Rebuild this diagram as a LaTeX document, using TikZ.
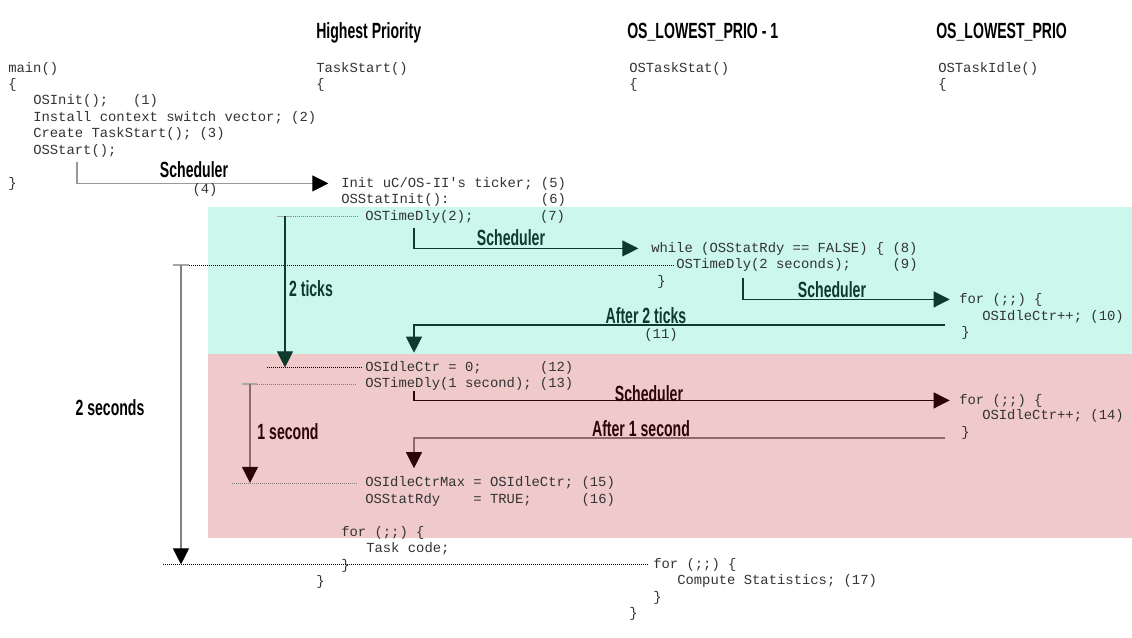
\documentclass[tikz,border=0pt]{standalone}
\usepackage{fontspec}
\setmonofont{Liberation Mono}
\newfontfamily\headfont{Liberation Sans}[FakeStretch=0.64]
\usepackage{tikz}
\usetikzlibrary{arrows.meta,positioning}

\definecolor{mint}{HTML}{CBF7EC}
\definecolor{rose}{HTML}{F0CACA}
\definecolor{tealdark}{HTML}{0E3A2E}
\definecolor{maroondark}{HTML}{2B0606}
\definecolor{rosegray}{HTML}{8E6A6A}
\newcommand\codefont{\fontsize{10.4}{12}\selectfont\ttfamily}
\newcommand\lblfont{\fontsize{16.5}{19}\selectfont\headfont\bfseries}

\begin{document}\frenchspacing
\begin{tikzpicture}[x=0.75pt, y=-0.75pt,
	code/.style={anchor=base west, inner sep=0pt, font=\codefont, text=black!80},
	lbl/.style={inner sep=0pt, font=\lblfont},
	head/.style={lbl, anchor=base west},
	flow/.style={line width=0.8pt, -{Triangle[length=12pt,width=12pt,color=#1]}},
	span/.style={densely dotted, line width=0.5pt},
	tickmark/.style={gray!70, line width=1.2pt}]
	\useasboundingbox (0,0) rectangle (1132,637);
	\fill[mint] (208,207) rectangle (1132,353.5);
	\fill[rose] (208,353.5) rectangle (1132,538);

	\node (hHigh) at (316,38) [head] {Highest Priority};
	\node (hStat) at (627,38) [head] {OS\_LOWEST\_PRIO - 1};
	\node (hIdle) at (936,38) [head] {OS\_LOWEST\_PRIO};

	\node (m0) at (8,72) [code] {main()};
	\node (m1) at (8,88) [code] {\{};
	\node (m2) at (33,104.5) [code] {OSInit();~~~(1)};
	\node (m3) at (33,121) [code] {Install context switch vector; (2)};
	\node (m4) at (33,137) [code] {Create TaskStart(); (3)};
	\node (m5) at (33,154) [code] {OSStart();};
	\node (m6) at (8,187) [code] {\}};

	\node (t0) at (316,72) [code] {TaskStart()};
	\node (t1) at (316,88) [code] {\{};
	\node (t2) at (341,187) [code] {Init uC/OS-II's ticker; (5)};
	\node (t3) at (341,203.5) [code] {OSStatInit():~~~~~~~~~~~(6)};
	\node (t4) at (365,220) [code] {OSTimeDly(2);~~~~~~~~(7)};
	\node (t5) at (365,371) [code] {OSIdleCtr = 0;~~~~~~~(12)};
	\node (t6) at (365,387.5) [code] {OSTimeDly(1 second); (13)};
	\node (t7) at (365,486.5) [code] {OSIdleCtrMax = OSIdleCtr; (15)};
	\node (t8) at (365,503) [code] {OSStatRdy~~~~= TRUE;~~~~~~(16)};
	\node (t9) at (341,536) [code] {for (;;) \{};
	\node (t10) at (366,552) [code] {Task code;};
	\node (t11) at (341,569) [code] {\}};
	\node (t12) at (316,585) [code] {\}};

	\node (s0) at (629,72) [code] {OSTaskStat()};
	\node (s1) at (629,88) [code] {\{};
	\node (s2) at (651,252) [code] {while (OSStatRdy == FALSE) \{ (8)};
	\node (s3) at (676,268.5) [code] {OSTimeDly(2 seconds);~~~~~(9)};
	\node (s4) at (657,285) [code] {\}};
	\node (s5) at (653,568) [code] {for (;;) \{};
	\node (s6) at (677,584) [code] {Compute Statistics; (17)};
	\node (s7) at (653,601) [code] {\}};
	\node (s8) at (629,617) [code] {\}};

	\node (i0) at (938,72) [code] {OSTaskIdle()};
	\node (i1) at (938,88) [code] {\{};
	\node (i2) at (959,303) [code] {for (;;) \{};
	\node (i3) at (982,320) [code] {OSIdleCtr++; (10)};
	\node (i4) at (961,336) [code] {\}};
	\node (i5) at (959,404) [code] {for (;;) \{};
	\node (i6) at (982,419) [code] {OSIdleCtr++; (14)};
	\node (i7) at (961,436) [code] {\}};

	% context switches
	\draw[flow=black, draw=gray!80, shorten >=9.5pt] (m5.base west) ++(44,8) |- (t2.west);
	\node (sch1) at (194,170) [lbl] {Scheduler};
	\node (n4) at (205,190) [code, anchor=center] {(4)};
	\draw[flow=tealdark, draw=tealdark, shorten >=9.5pt] (t4.base west) ++(49,8) |- (s2.west);
	\node (sch2) at (511,238) [lbl, text=tealdark] {Scheduler};
	\draw[flow=tealdark, draw=tealdark, shorten >=7pt] (s3.base west) ++(67,9) |- (i2.west);
	\node (sch3) at (832,290) [lbl, text=tealdark] {Scheduler};
	\draw[flow=tealdark, draw=tealdark, shorten >=6pt] (i3.base west) ++(-37,5) -| (414,0 |- t5.north);
	\node (aft2) at (646,316) [lbl, text=tealdark] {After 2 ticks};
	\node (n11) at (661,335) [code, anchor=center] {(11)};
	\draw[flow=maroondark, draw=maroondark, shorten >=7pt] (t6.base west) ++(49,3) |- (i5.west);
	\node (sch4) at (649,394) [lbl, text=maroondark] {Scheduler};
	\draw[flow=maroondark, draw=rosegray, shorten >=6pt] (i7.base west) ++(-16,2) -| (414,0 |- t7.north);
	\node (aft1) at (641,429) [lbl, text=maroondark] {After 1 second};

	% time spans
	\draw[span, gray] (277,0 |- t4.west) -- ([xshift=-5pt]t4.west);
	\draw[tickmark] (277,0 |- t4.west) -- ++(15,0);
	\draw[span] (267,0 |- t5.west) -- ([xshift=-2pt]t5.west);
	\draw[flow=tealdark, draw=tealdark] (285,0 |- t4.west) -- (285,0 |- t5.west);
	\node (tk2) at (311,289) [lbl, text=tealdark] {2 ticks};

	\draw[span] (189,0 |- s3.west) -- ([xshift=-1.5pt]s3.west);
	\draw[tickmark] (173,0 |- s3.west) -- ++(16,0);
	\draw[span] (163,0 |- s5.west) -- ([xshift=-4pt]s5.west);
	\draw[flow=black, draw=gray] (181,0 |- s3.west) -- (181,0 |- s5.west);
	\node (sec2) at (110,408) [lbl] {2 seconds};

	\draw[span, gray] (257,0 |- t6.west) -- ([xshift=-6pt]t6.west);
	\draw[tickmark] (242,0 |- t6.west) -- ++(15,0);
	\draw[span, gray] (232,0 |- t7.west) -- ([xshift=-6pt]t7.west);
	\draw[flow=maroondark, draw=rosegray] (250,0 |- t6.west) -- (250,0 |- t7.west);
	\node (sec1) at (288,432) [lbl, text=maroondark] {1 second};
\end{tikzpicture}
\end{document}
